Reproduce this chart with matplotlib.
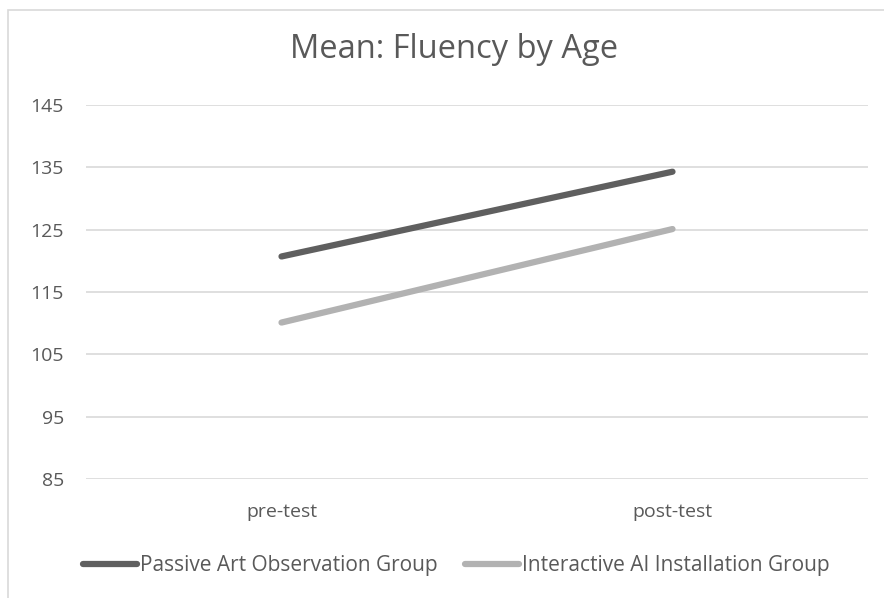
import matplotlib
matplotlib.use("Agg")
import matplotlib.pyplot as plt
from matplotlib.patches import Rectangle

categories = ["pre-test", "post-test"]
passive = [120.7, 134.3]
interactive = [110.1, 125.1]
yticks = [85, 95, 105, 115, 125, 135, 145]

plt.rcParams['font.family'] = ['Open Sans', 'DejaVu Sans']
txt = '#595959'

fig = plt.figure(figsize=(8.84, 5.98), dpi=100)
ax = fig.add_axes([86/884, 1 - 479/598, 782/884, 374/598])

x = range(len(categories))
ax.plot(x, passive, color='#5f5f5f', linewidth=4.5, solid_capstyle='round',
        label='Passive Art Observation Group')
ax.plot(x, interactive, color='#b2b2b2', linewidth=4.5, solid_capstyle='round',
        label='Interactive AI Installation Group')

ax.set_xlim(-0.5, 1.5)
ax.set_ylim(85, 145)
ax.set_yticks(yticks)
ax.set_xticks(list(x))
ax.set_xticklabels(categories)
ax.grid(axis='y', color='#d9d9d9', linewidth=1.2)
ax.set_axisbelow(True)
for s in ax.spines.values():
    s.set_visible(False)
ax.tick_params(length=0, labelsize=14, colors=txt)
ax.tick_params(axis='x', pad=17)
ax.tick_params(axis='y', pad=16)

fig.text(454/884, 1 - 50/598, "Mean: Fluency by Age", ha='center', va='center',
         fontsize=23.5, color=txt)

leg = fig.legend(loc='center', bbox_to_anchor=(456/884, 1 - 566/598), ncol=2,
                 frameon=False, fontsize=15, handlelength=2.6, handletextpad=0.15,
                 columnspacing=1.3)
for t in leg.get_texts():
    t.set_color(txt)

fig.patches.append(Rectangle((8/884, -0.1), 1.2, 1 - 10/598 + 0.1,
                             transform=fig.transFigure, fill=False,
                             edgecolor='#d9d9d9', linewidth=1.2))

fig.savefig("out.png", dpi=100)
